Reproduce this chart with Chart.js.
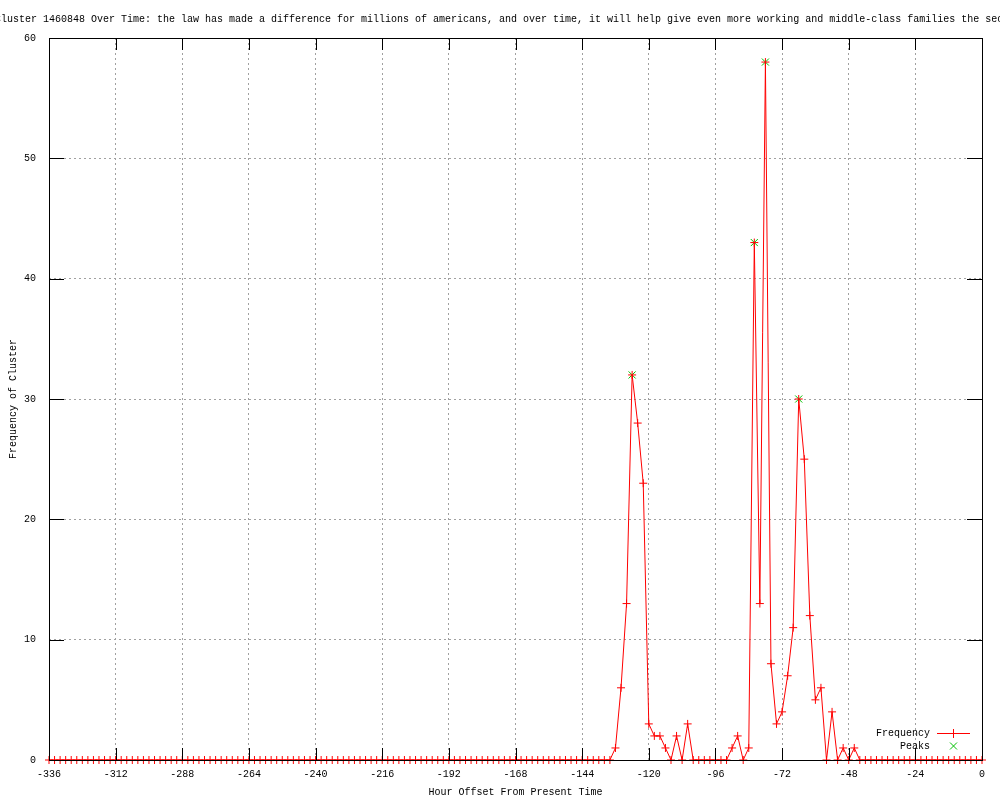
<!DOCTYPE html>
<html>
<head>
<meta charset="utf-8">
<title>Cluster 1460848 Over Time</title>
<script src="https://cdn.jsdelivr.net/npm/chart.js@4.4.1/dist/chart.umd.min.js"></script>
<style>
  html, body { margin: 0; padding: 0; background: #ffffff; }
  canvas { display: block; }
</style>
</head>
<body>
<canvas id="clusterChart" width="1000" height="800"></canvas>
<script>
// hour offsets of each 2-hour bin
const hours = [
  -336, -334, -332, -330, -328, -326, -324, -322, -320, -318, -316, -314,
  -312, -310, -308, -306, -304, -302, -300, -298, -296, -294, -292, -290,
  -288, -286, -284, -282, -280, -278, -276, -274, -272, -270, -268, -266,
  -264, -262, -260, -258, -256, -254, -252, -250, -248, -246, -244, -242,
  -240, -238, -236, -234, -232, -230, -228, -226, -224, -222, -220, -218,
  -216, -214, -212, -210, -208, -206, -204, -202, -200, -198, -196, -194,
  -192, -190, -188, -186, -184, -182, -180, -178, -176, -174, -172, -170,
  -168, -166, -164, -162, -160, -158, -156, -154, -152, -150, -148, -146,
  -144, -142, -140, -138, -136, -134, -132, -130, -128, -126, -124, -122,
  -120, -118, -116, -114, -112, -110, -108, -106, -104, -102, -100, -98,
  -96, -94, -92, -90, -88, -86, -84, -82, -80, -78, -76, -74,
  -72, -70, -68, -66, -64, -62, -60, -58, -56, -54, -52, -50,
  -48, -46, -44, -42, -40, -38, -36, -34, -32, -30, -28, -26,
  -24, -22, -20, -18, -16, -14, -12, -10, -8, -6, -4, -2,
  0
];

// frequency per bin (same row layout as hours)
const frequency = [
  0, 0, 0, 0, 0, 0, 0, 0, 0, 0, 0, 0,
  0, 0, 0, 0, 0, 0, 0, 0, 0, 0, 0, 0,
  0, 0, 0, 0, 0, 0, 0, 0, 0, 0, 0, 0,
  0, 0, 0, 0, 0, 0, 0, 0, 0, 0, 0, 0,
  0, 0, 0, 0, 0, 0, 0, 0, 0, 0, 0, 0,
  0, 0, 0, 0, 0, 0, 0, 0, 0, 0, 0, 0,
  0, 0, 0, 0, 0, 0, 0, 0, 0, 0, 0, 0,
  0, 0, 0, 0, 0, 0, 0, 0, 0, 0, 0, 0,
  0, 0, 0, 0, 0, 0, 1, 6, 13, 32, 28, 23,
  3, 2, 2, 1, 0, 2, 0, 3, 0, 0, 0, 0,
  0, 0, 0, 1, 2, 0, 1, 43, 13, 58, 8, 3,
  4, 7, 11, 30, 25, 12, 5, 6, 0, 4, 0, 1,
  0, 1, 0, 0, 0, 0, 0, 0, 0, 0, 0, 0,
  0, 0, 0, 0, 0, 0, 0, 0, 0, 0, 0, 0,
  0
];

const peakHours = [-126, -82, -78, -66];
const peakValues = [32, 43, 58, 30];

const xTickValues = [-336, -312, -288, -264, -240, -216, -192, -168, -144, -120, -96, -72, -48, -24, 0];
const yTickValues = [0, 10, 20, 30, 40, 50, 60];

const chartTitle = 'Cluster 1460848 Over Time: the law has made a difference for millions of americans, and over time, it will help give even more working and middle-class families the sec';

const mono = "'Liberation Mono', 'DejaVu Sans Mono', monospace";
const freqColor = 'rgb(255, 0, 0)';
const peakColor = 'rgb(0, 192, 0)';

// border box, inward tics, title and key drawn the gnuplot way
const gnuplotFrame = {
    id: 'gnuplotFrame',
    afterDatasetsDraw(chart) {
        const c = chart.ctx;
        const a = chart.chartArea;
        const x = chart.scales.x;
        const y = chart.scales.y;
        c.save();
        c.strokeStyle = '#000000';
        c.lineWidth = 1;
        c.beginPath();
        x.ticks.forEach(t => {
            const px = Math.round(x.getPixelForValue(t.value)) + 0.5;
            c.moveTo(px, a.bottom);
            c.lineTo(px, a.bottom - 12);
            c.moveTo(px, a.top);
            c.lineTo(px, a.top + 12);
        });
        y.ticks.forEach(t => {
            const py = Math.round(y.getPixelForValue(t.value)) + 0.5;
            c.moveTo(a.left, py);
            c.lineTo(a.left + 15, py);
            c.moveTo(a.right, py);
            c.lineTo(a.right - 15, py);
        });
        c.stroke();
        c.strokeRect(Math.round(a.left) + 0.5, Math.round(a.top) + 0.5,
            Math.round(a.right - a.left), Math.round(a.bottom - a.top));

        // title
        c.font = '10px ' + mono;
        c.fillStyle = '#000000';
        c.textBaseline = 'middle';
        c.textAlign = 'left';
        c.fillText(chartTitle, -5, 19);

        // key, bottom right
        const ds = chart.data.datasets;
        c.textAlign = 'right';
        c.fillText(ds[0].label, 930, 733);
        c.fillText(ds[1].label, 930, 746);

        // frequency sample: line with a + mark
        c.fillStyle = freqColor;
        c.fillRect(937, 733, 33, 1);
        c.fillRect(953, 729, 1, 9);

        // peaks sample: x mark
        c.beginPath();
        c.strokeStyle = peakColor;
        c.moveTo(950, 742.5);
        c.lineTo(957, 749.5);
        c.moveTo(957, 742.5);
        c.lineTo(950, 749.5);
        c.stroke();
        c.restore();
    }
};

const canvas = document.getElementById('clusterChart');
new Chart(canvas, {
    type: 'scatter',
    data: {
        datasets: [
            {
                label: 'Frequency',
                data: hours.map((h, i) => ({ x: h, y: frequency[i] })),
                showLine: true,
                borderColor: freqColor,
                backgroundColor: freqColor,
                borderWidth: 1,
                tension: 0,
                pointStyle: 'cross',
                pointRadius: 4,
                pointBorderWidth: 1,
                pointBorderColor: freqColor,
                clip: false
            },
            {
                label: 'Peaks',
                data: peakHours.map((h, i) => ({ x: h, y: peakValues[i] })),
                showLine: false,
                borderColor: peakColor,
                backgroundColor: peakColor,
                pointStyle: 'crossRot',
                pointRadius: 5,
                pointBorderWidth: 1,
                pointBorderColor: peakColor,
                clip: false
            }
        ]
    },
    options: {
        responsive: false,
        animation: false,
        devicePixelRatio: 1,
        layout: { padding: { top: 38, right: 18, left: 0, bottom: 0 } },
        plugins: {
            legend: { display: false },
            tooltip: { enabled: false }
        },
        scales: {
            x: {
                type: 'linear',
                min: -336,
                max: 0,
                afterBuildTicks: s => { s.ticks = xTickValues.map(v => ({ value: v })); },
                afterFit: s => { s.height = 40; },
                ticks: {
                    color: '#000000',
                    font: { family: mono, size: 10 },
                    padding: 8,
                    maxRotation: 0,
                    autoSkip: false
                },
                grid: { color: '#a0a0a0', lineWidth: 1, drawTicks: false },
                border: { display: false, dash: [2, 3] },
                title: {
                    display: true,
                    text: 'Hour Offset From Present Time',
                    color: '#000000',
                    font: { family: mono, size: 10 },
                    padding: { top: 0, bottom: 2 }
                }
            },
            y: {
                type: 'linear',
                min: 0,
                max: 60,
                afterBuildTicks: s => { s.ticks = yTickValues.map(v => ({ value: v })); },
                afterFit: s => { s.width = 49; },
                ticks: {
                    color: '#000000',
                    font: { family: mono, size: 10 },
                    padding: 13
                },
                grid: { color: '#a0a0a0', lineWidth: 1, drawTicks: false },
                border: { display: false, dash: [2, 3] },
                title: {
                    display: true,
                    text: 'Frequency of Cluster',
                    color: '#000000',
                    font: { family: mono, size: 10 },
                    padding: { top: 7, bottom: 0 }
                }
            }
        }
    },
    plugins: [gnuplotFrame]
});
</script>
</body>
</html>
